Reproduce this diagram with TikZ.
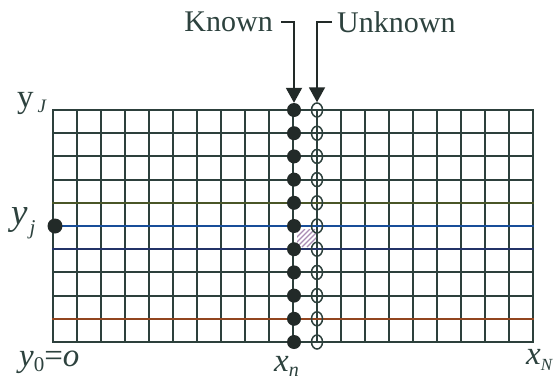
\documentclass[tikz,border=0pt]{standalone}
\usepackage{fontspec}
\setmainfont{Liberation Serif}
\usetikzlibrary{arrows.meta,shapes.geometric}
\definecolor{gridc}{RGB}{45,64,60}
\definecolor{inkc}{RGB}{34,42,40}
\definecolor{txtc}{RGB}{45,66,62}
\colorlet{olivec}{gridc!65!olive}
\colorlet{tealc}{gridc!75!cyan!70!blue}
\colorlet{bluec}{gridc!78!blue}
\colorlet{brownc}{gridc!65!orange!80!red}
\definecolor{hatchc}{RGB}{170,140,180}
\begin{document}
\begin{tikzpicture}[x=1pt,y=-1pt,
  gridline/.style={line width=1.9pt,draw=gridc,line cap=rect},
  kdot/.style={circle,fill=inkc,inner sep=0pt,minimum size=14pt},
  udot/.style={ellipse,draw=gridc,line width=1.5pt,inner sep=0pt,minimum width=11pt,minimum height=14pt},
  lbl/.style={text=txtc,inner sep=0pt},
  arr/.style={draw=inkc,line width=1.9pt,-{Triangle[width=16pt,length=15pt]}},
]
\useasboundingbox (0,0) rectangle (557,383);
% grid
\foreach \i in {0,...,20}
  \draw[gridline] ({53+24*\i},110) -- ({53+24*\i},342);
\foreach \k/\c in {0/gridc,1/gridc,2/gridc,3/gridc,4/olivec,5/tealc,6/bluec,7/gridc,8/gridc,9/brownc,10/gridc}
  \draw[gridline,draw=\c] (53,{110+23.2*\k}) -- (533,{110+23.2*\k});
% hatch
\begin{scope}
  \clip (297,229) rectangle (316,247);
  \foreach \t in {-14,-9,-4,1,6,11}
    \draw[hatchc,line width=1.2pt] ({296+\t},247) -- ({296+\t+18},229);
\end{scope}
% dots
\foreach \k in {0,...,10} {
  \node[kdot] (k\k) at (294,{110+23.2*\k}) {};
  \node[udot] (u\k) at (317,{110+23.2*\k}) {};
}
\node[kdot,minimum size=15pt] (yjdot) at (55,226) {};
% top labels and arrows
\node[lbl,inner xsep=8pt,anchor=east] (known) at (281,22) {\fontsize{30}{30}\selectfont Known};
\node[lbl,inner xsep=5pt,anchor=west] (unknown) at (332,22) {\fontsize{30}{30}\selectfont Unknown};
\draw[arr] (known.east) -| (k0.north);
\draw[arr] (unknown.west) -| (u0.north);
% axis labels
\node[lbl,anchor=base west] (yJ) at (17,107) {\fontsize{33}{33}\selectfont y\hspace{4pt}\raisebox{-5pt}{\fontsize{19}{19}\selectfont\itshape J}};
\node[lbl,anchor=base west] (yj) at (11,224) {\fontsize{37}{37}\selectfont\itshape y\hspace{2pt}\raisebox{-10pt}{\fontsize{21}{21}\selectfont j}};
\node[lbl,anchor=base west] (y0) at (19,366) {\fontsize{33}{33}\selectfont\itshape y\raisebox{-5pt}{\fontsize{21}{21}\selectfont\upshape 0}\upshape=\itshape o};
\node[lbl,anchor=base west] (xn) at (274,371) {\fontsize{33}{33}\selectfont\itshape x\raisebox{-5pt}{\fontsize{20}{20}\selectfont n}};
\node[lbl,anchor=base west] (xN) at (526,364) {\fontsize{33}{33}\selectfont\itshape x\raisebox{-6pt}{\fontsize{17}{17}\selectfont N}};
\end{tikzpicture}
\end{document}
